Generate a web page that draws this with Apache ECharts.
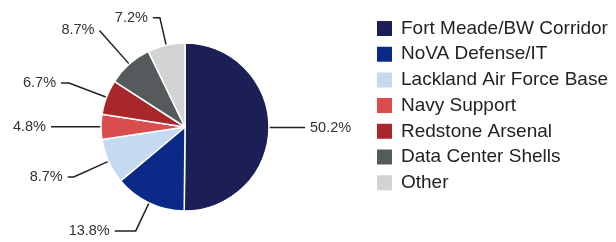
<!DOCTYPE html>
<html>
<head>
<meta charset="utf-8">
<script src="https://cdn.jsdelivr.net/npm/echarts@6/dist/echarts.min.js"></script>
<style>
  html, body { margin: 0; padding: 0; background: #fff; }
  #chart { width: 616px; height: 242px; }
</style>
</head>
<body>
<div id="chart"></div>
<script>
const categories = ['Fort Meade/BW Corridor', 'NoVA Defense/IT', 'Lackland Air Force Base', 'Navy Support', 'Redstone Arsenal', 'Data Center Shells', 'Other']
const shares = [50.2, 13.8, 8.7, 4.8, 6.7, 8.7, 7.2]
const colors = ['#1b1f55', '#0b2a88', '#c5d9f0', '#d94d4f', '#a8272b', '#555a5c', '#d3d3d3']
// guide line lengths per slice [first, second]
const lineLens = [[24, 12], [31, 21], [38, 6], [46, 4], [40, 8], [45, 0], [28, 7]]

const chart = echarts.init(document.getElementById('chart'))

const data = categories.map((name, i) => ({
  name: name,
  value: shares[i],
  itemStyle: { color: colors[i] },
  labelLine: { length: lineLens[i][0], length2: lineLens[i][1] },
}))

chart.setOption({
  animation: false,
  legend: {
    orient: 'vertical',
    left: 375,
    top: 19,
    padding: 0,
    icon: 'rect',
    itemWidth: 17,
    itemHeight: 17,
    itemGap: 6.7,
    textStyle: {
      fontFamily: 'Liberation Sans',
      fontSize: 19,
      color: '#222',
      padding: [0, 0, 0, 3],
    },
    data: categories,
  },
  series: [{
    type: 'pie',
    center: [185, 127],
    radius: 84,
    startAngle: 90,
    clockwise: true,
    avoidLabelOverlap: false,
    itemStyle: {
      borderColor: '#fff',
      borderWidth: 1.5,
    },
    label: {
      show: true,
      formatter: '{c}%',
      fontFamily: 'Liberation Sans',
      fontSize: 14.5,
      color: '#333',
    },
    labelLine: {
      show: true,
      lineStyle: { color: '#222', width: 1.5 },
    },
    data: data,
  }],
})
</script>
</body>
</html>
